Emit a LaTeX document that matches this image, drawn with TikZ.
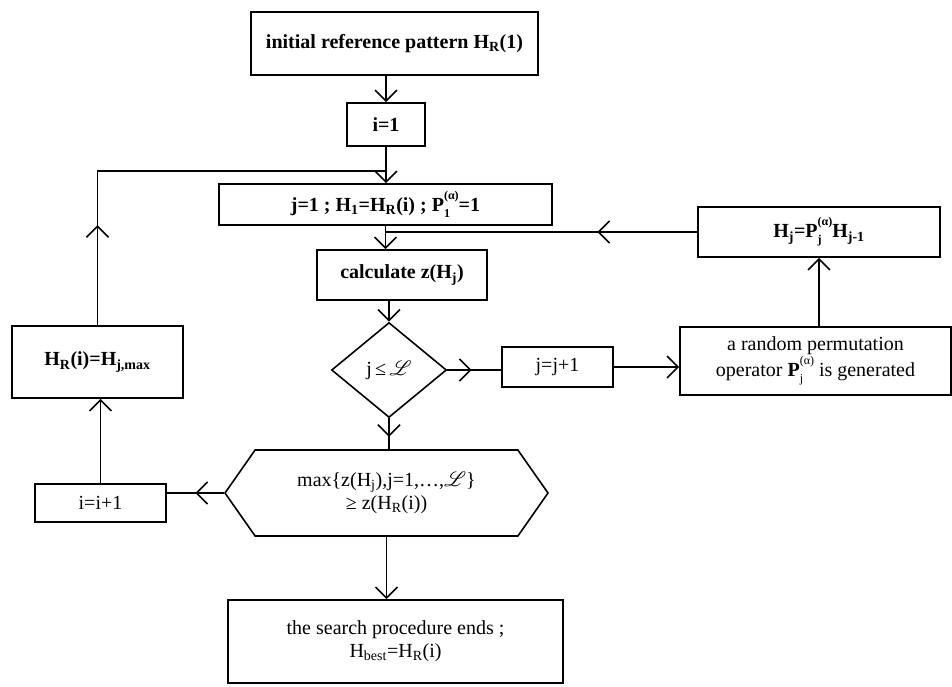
\documentclass[tikz,border=0pt]{standalone}
\usepackage{fontspec}
\setmainfont{Liberation Serif}
\usepackage{mathrsfs}
\usetikzlibrary{arrows.meta,shapes.geometric,shapes.symbols,decorations.markings}

% small helpers for sub/superscripts in text
\newcommand{\lowtxt}[1]{\textsubscript{#1}}
\newcommand{\opP}[1]{\textbf{P}\rlap{\raisebox{-0.3em}{\fontsize{12}{12}\selectfont #1}}%
  \raisebox{0.6em}{\fontsize{12}{12}\selectfont(α)}}
\newcommand{\Lset}{$\mathscr{L}$}

\begin{document}
\begin{tikzpicture}[x=1pt,y=-1pt,
  box/.style={draw,line width=1.6pt,inner sep=2pt,align=center,
    font=\fontsize{20}{23}\selectfont},
  flow/.style={line width=1.6pt,-{Straight Barb[length=11pt,width=22pt,line width=1.6pt]}},
  midflow/.style={line width=1.6pt,postaction={decorate},
    decoration={markings,mark=at position #1 with
      {\arrow{Straight Barb[length=11pt,width=22pt,line width=1.6pt]}}}}]

\useasboundingbox (0,0) rectangle (952,686);

% main column
\node[box,minimum width=287pt,minimum height=63pt] (init) at (394.5,43.5)
  {\textbf{initial reference pattern H\lowtxt{R}(1)}};
\node[box,minimum width=78pt,minimum height=43pt] (i1) at (386,124.5) {\textbf{i=1}};
\node[box,minimum width=333pt,minimum height=41pt] (j1) at (385.5,204.5)
  {\textbf{j=1\ ; H\lowtxt{1}=H\lowtxt{R}(i)\ ; \opP{1}=1}};
\node[box,minimum width=170pt,minimum height=50pt] (calc) at (402,275)
  {\textbf{calculate z(H\lowtxt{j})}};
\node[box,shape=diamond,inner sep=0pt,minimum width=115pt,minimum height=95pt]
  (dia) at (389,370) {j\,≤\,\Lset};
\node[box,shape=signal,signal to=east and west,signal pointer angle=110,
  minimum width=323pt,minimum height=86pt] (hex) at (386.5,493)
  {max\{z(H\lowtxt{j}),j=1,\dots,\Lset\}\\≥\ z(H\lowtxt{R}(i))};
\node[box,minimum width=335pt,minimum height=83pt] (end) at (395.5,641.5)
  {the search procedure ends ;\\H\lowtxt{best}=H\lowtxt{R}(i)};

% right loop
\node[box,minimum width=111pt,minimum height=40pt] (jp1) at (557.5,367) {j=j+1};
\node[box,minimum width=271pt,minimum height=68pt] (perm) at (815.5,361)
  {a random permutation\\operator \opP{j} is generated};
\node[box,minimum width=242pt,minimum height=50pt] (Hj) at (819,232)
  {\textbf{H\lowtxt{j}=\opP{j}H\lowtxt{j-1}}};

% left loop
\node[box,minimum width=171pt,minimum height=72pt] (HR) at (97.5,362)
  {\textbf{H\lowtxt{R}(i)=H\lowtxt{j,max}}};
\node[box,minimum width=131pt,minimum height=38pt] (ip1) at (100.5,503) {i=i+1};
\coordinate (loop) at (386,171);

% connectors, main column
\draw[flow] (init.south -| i1) -- (i1.north);
\draw[flow] (i1.south) -- (i1.south |- j1.north);
\draw[flow] (j1.south) -- (j1.south |- calc.north);
\draw[flow] (dia.north |- calc.south) -- (dia.north);
\draw[midflow=0.6] (dia.south) -- (dia.south |- hex.north);
\draw[flow] (hex.south) -- (hex.south |- end.north);

% connectors, right loop
\draw[midflow=0.45] (dia.east) -- (dia.east -| jp1.west);
\draw[flow] (jp1.east) -- (jp1.east -| perm.west);
\draw[flow] (perm.north -| Hj.south) -- (Hj.south);
\draw[midflow=0.32] (Hj.west) -- (Hj.west -| j1.south);

% connectors, left loop
\draw[midflow=0.5] (hex.west) -- (hex.west -| ip1.east);
\draw[flow] (ip1.north) -- (ip1.north |- HR.south);
\draw[midflow=100pt] (HR.north) -- (HR.north |- loop) -- (loop);

\end{tikzpicture}
\end{document}
